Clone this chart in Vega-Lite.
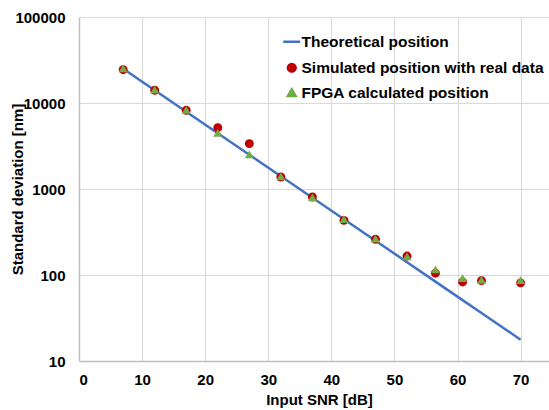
{
  "$schema": "https://vega.github.io/schema/vega-lite/v6.json",
  "width": 470,
  "height": 344,
  "autosize": {"type": "none"},
  "padding": {"left": 79, "top": 17, "right": 0, "bottom": 49},
  "background": "white",
  "config": {
    "font": "Liberation Sans",
    "view": {"stroke": null},
    "axis": {
      "labelFont": "Liberation Sans",
      "labelFontWeight": "bold",
      "labelFontSize": 15,
      "labelColor": "#000000",
      "titleFont": "Liberation Sans",
      "titleFontWeight": "bold",
      "titleFontSize": 15,
      "titleColor": "#000000",
      "gridColor": "#D9D9D9",
      "gridWidth": 1,
      "domainColor": "#BFBFBF",
      "domainWidth": 1.5,
      "ticks": false
    }
  },
  "datasets": {
    "theory": [
      {"snr": 7, "std": 25000, "series": "Theoretical position"},
      {"snr": 12, "std": 14060, "series": "Theoretical position"},
      {"snr": 17, "std": 7906, "series": "Theoretical position"},
      {"snr": 22, "std": 4446, "series": "Theoretical position"},
      {"snr": 27, "std": 2500, "series": "Theoretical position"},
      {"snr": 32, "std": 1406, "series": "Theoretical position"},
      {"snr": 37, "std": 791, "series": "Theoretical position"},
      {"snr": 42, "std": 445, "series": "Theoretical position"},
      {"snr": 47, "std": 250, "series": "Theoretical position"},
      {"snr": 52, "std": 141, "series": "Theoretical position"},
      {"snr": 56.5, "std": 83.8, "series": "Theoretical position"},
      {"snr": 60.8, "std": 51, "series": "Theoretical position"},
      {"snr": 63.8, "std": 36.1, "series": "Theoretical position"},
      {"snr": 70, "std": 17.7, "series": "Theoretical position"}
    ],
    "points": [
      {"snr": 7, "std": 24400, "series": "Simulated position with real data"},
      {"snr": 12, "std": 14060, "series": "Simulated position with real data"},
      {"snr": 17, "std": 8220, "series": "Simulated position with real data"},
      {"snr": 22, "std": 5170, "series": "Simulated position with real data"},
      {"snr": 27, "std": 3370, "series": "Simulated position with real data"},
      {"snr": 32, "std": 1380, "series": "Simulated position with real data"},
      {"snr": 37, "std": 807, "series": "Simulated position with real data"},
      {"snr": 42, "std": 432, "series": "Simulated position with real data"},
      {"snr": 47, "std": 260, "series": "Simulated position with real data"},
      {"snr": 52, "std": 166, "series": "Simulated position with real data"},
      {"snr": 56.5, "std": 105, "series": "Simulated position with real data"},
      {"snr": 60.8, "std": 83, "series": "Simulated position with real data"},
      {"snr": 63.8, "std": 86, "series": "Simulated position with real data"},
      {"snr": 70, "std": 81, "series": "Simulated position with real data"},
      {"snr": 7, "std": 25300, "series": "FPGA calculated position"},
      {"snr": 12, "std": 14300, "series": "FPGA calculated position"},
      {"snr": 17, "std": 8300, "series": "FPGA calculated position"},
      {"snr": 22, "std": 4480, "series": "FPGA calculated position"},
      {"snr": 27, "std": 2530, "series": "FPGA calculated position"},
      {"snr": 32, "std": 1400, "series": "FPGA calculated position"},
      {"snr": 37, "std": 800, "series": "FPGA calculated position"},
      {"snr": 42, "std": 445, "series": "FPGA calculated position"},
      {"snr": 47, "std": 265, "series": "FPGA calculated position"},
      {"snr": 52, "std": 165, "series": "FPGA calculated position"},
      {"snr": 56.5, "std": 116, "series": "FPGA calculated position"},
      {"snr": 60.8, "std": 92, "series": "FPGA calculated position"},
      {"snr": 63.8, "std": 88, "series": "FPGA calculated position"},
      {"snr": 70, "std": 87, "series": "FPGA calculated position"}
    ]
  },
  "encoding": {
    "x": {
      "field": "snr",
      "type": "quantitative",
      "scale": {"domain": [0, 74.5], "nice": false, "zero": false},
      "axis": {
        "values": [0, 10, 20, 30, 40, 50, 60, 70],
        "format": "d",
        "title": "Input SNR [dB]",
        "labelPadding": 11,
        "titleX": 240,
        "titleY": 38,
        "titleBaseline": "middle",
        "titleAlign": "center"
      }
    },
    "y": {
      "field": "std",
      "type": "quantitative",
      "scale": {"type": "log", "domain": [10, 100000], "nice": false},
      "axis": {
        "values": [10, 100, 1000, 10000, 100000],
        "format": "d",
        "title": "Standard deviation [nm]",
        "labelPadding": 14,
        "titleAngle": 270,
        "titleX": -62,
        "titleY": 172,
        "titleBaseline": "middle",
        "titleAlign": "center"
      }
    },
    "color": {
      "field": "series",
      "type": "nominal",
      "scale": {
        "domain": ["Theoretical position", "Simulated position with real data", "FPGA calculated position"],
        "range": ["#4472C4", "#C00000", "#70AD47"]
      },
      "legend": {
        "title": null,
        "orient": "none",
        "legendX": 205,
        "legendY": 17,
        "padding": 0,
        "rowPadding": 7,
        "labelFont": "Liberation Sans",
        "labelFontWeight": "bold",
        "labelFontSize": 15.5,
        "labelColor": "#000000",
        "labelOffset": 2,
        "labelLimit": 0,
        "symbolOpacity": 1,
        "encode": {
          "symbols": {
            "update": {
              "shape": {"signal": "datum.value === 'Theoretical position' ? 'stroke' : datum.value === 'Simulated position with real data' ? 'circle' : 'triangle-up'"},
              "size": {"signal": "datum.value === 'Theoretical position' ? 289 : 60"},
              "fill": {"signal": "datum.value === 'Theoretical position' ? 'transparent' : datum.value === 'Simulated position with real data' ? '#C00000' : '#70AD47'"},
              "stroke": {"signal": "datum.value === 'Theoretical position' ? '#4472C4' : 'transparent'"},
              "strokeWidth": {"value": 2.5},
              "opacity": {"value": 1}
            }
          }
        }
      }
    }
  },
  "layer": [
    {
      "data": {"name": "theory"},
      "mark": {"type": "line", "strokeWidth": 2.5}
    },
    {
      "data": {"name": "points"},
      "mark": {"type": "point", "filled": true, "opacity": 1, "size": 80},
      "encoding": {
        "shape": {
          "field": "series",
          "type": "nominal",
          "scale": {
            "domain": ["Theoretical position", "Simulated position with real data", "FPGA calculated position"],
            "range": ["stroke", "circle", "triangle-up"]
          },
          "legend": null
        }
      }
    }
  ]
}
